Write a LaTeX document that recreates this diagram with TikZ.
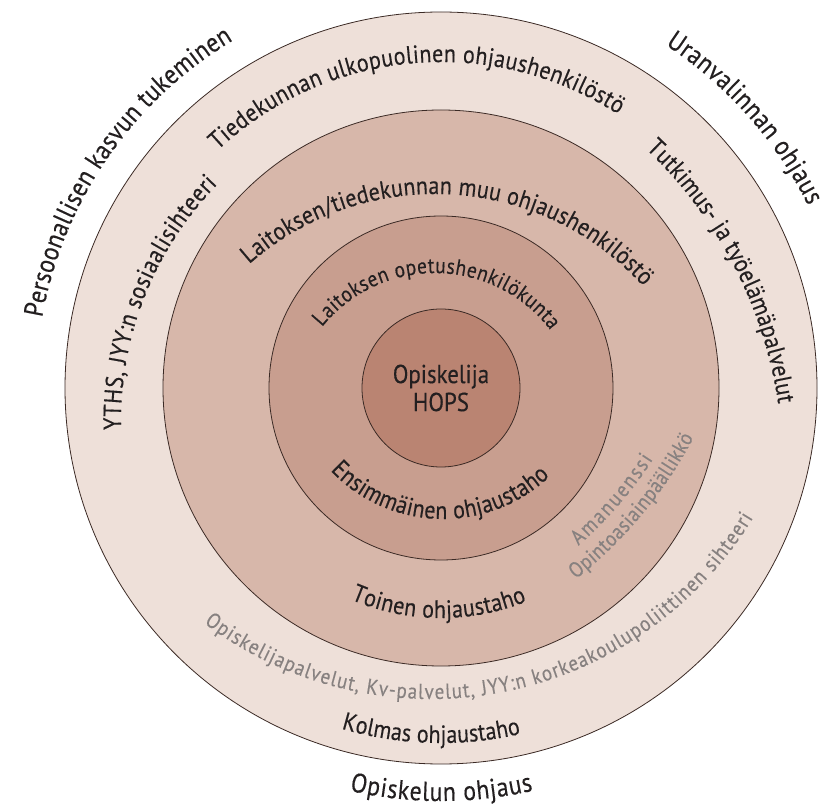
\documentclass[tikz,border=0pt]{standalone}
\usepackage{fontspec}
\setmainfont{PT Sans}[FakeStretch=0.88, FakeBold=0.3]
\usetikzlibrary{decorations.text}
\definecolor{ringA}{HTML}{EEE0D9}
\definecolor{ringB}{HTML}{D7B7AA}
\definecolor{ringC}{HTML}{C89E8F}
\definecolor{ringD}{HTML}{BA8472}
\definecolor{ink}{HTML}{231F20}
\definecolor{grayink}{HTML}{878180}
\definecolor{edge}{HTML}{3B2A25}
% #1 centre, #2 radius, #3 start angle, #4 end angle, #5 font size, #6 colour, #7 text
\newcommand{\arctext}[7]{%
  \path[shift={(#1)}, decorate, decoration={text along path, text align={fit to path}, text color=#6,
    text={|\fontsize{#5}{#5}\selectfont|#7}}]
    (#3:#2) arc[start angle=#3, end angle=#4, radius=#2];
}
\begin{document}
\begin{tikzpicture}[x=1pt,y=1pt,
  ring/.style={circle, inner sep=0pt, outer sep=0pt, draw=edge, line width=0.8pt}]
\useasboundingbox (0,0) rectangle (820,807);
\fill[white] (0,0) rectangle (820,807);
\coordinate (c) at (441,419);
\node[ring, fill=ringA, minimum size=752] (r4) at (c) {};
\node[ring, fill=ringB, minimum size=556] (r3) at (c) {};
\node[ring, fill=ringC, minimum size=344] (r2) at (c) {};
\node[ring, fill=ringD, minimum size=158] (r1) at (c) {};
\node[font=\fontsize{26}{28}\selectfont, text=ink, align=center] (hops) at (c) {Opiskelija\\HOPS};

% outer labels
\arctext{441,419}{405}{170.0}{120.9}{27}{ink}{Persoonallisen kasvun tukeminen}
\arctext{441,419}{410}{56.8}{26.4}{27}{ink}{Uranvalinnan ohjaus}
\arctext{441,419}{413}{257.2}{282.9}{27}{ink}{Opiskelun ohjaus}
% outer ring
\arctext{441,419}{326}{133.2}{57.1}{25}{ink}{Tiedekunnan ulkopuolinen ohjaushenkilöstö}
\arctext{343,339}{440}{46.5}{8.4}{25}{ink}{Tutkimus- ja työelämäpalvelut}
\arctext{459,386}{338}{181.5}{135.6}{25}{ink}{YTHS{,} JYY:n sosiaalisihteeri}
\arctext{441,419}{355}{253.7}{283.0}{25}{ink}{Kolmas ohjaustaho}
\arctext{431,485}{377}{233.0}{328.7}{21.5}{grayink}{Opiskelijapalvelut{,} Kv-palvelut{,} JYY:n korkeakoulupoliittinen sihteeri}
% ring 3
\arctext{435,332}{281}{131.4}{42.2}{25}{ink}{Laitoksen/tiedekunnan muu ohjaushenkilöstö}
\arctext{441,419}{230}{246.9}{291.9}{25}{ink}{Toinen ohjaustaho}
\arctext{300,577}{421}{-48.6}{-33.0}{21.5}{grayink}{Amanuenssi}
\arctext{300,577}{445}{-51.7}{-27.8}{21.5}{grayink}{Opintoasiainpäällikkö}
% ring 2
\arctext{435,389}{145}{141.2}{37.2}{22}{ink}{Laitoksen opetushenkilökunta}
\arctext{443,443}{155}{223.4}{313.6}{25}{ink}{Ensimmäinen ohjaustaho}
\end{tikzpicture}
\end{document}
